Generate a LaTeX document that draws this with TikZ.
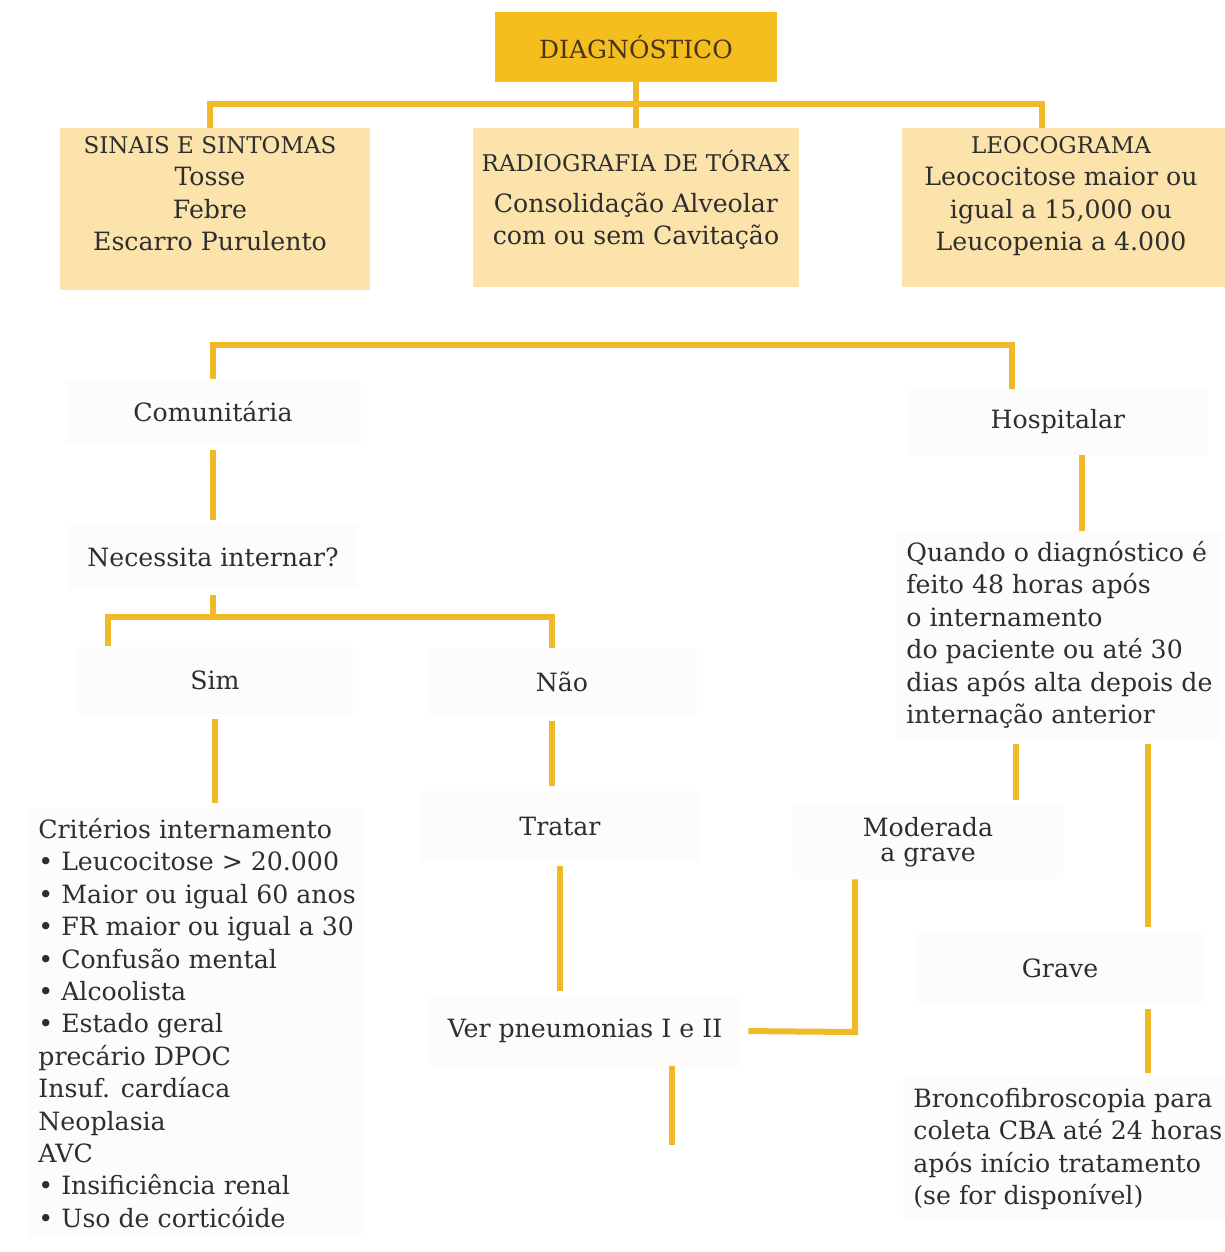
\documentclass[tikz,border=0pt]{standalone}
\usepackage{fontspec}
\setmainfont{DejaVu Serif}
\usetikzlibrary{calc}
\definecolor{gold}{HTML}{F4BE1F}
\definecolor{linegold}{HTML}{F0B928}
\definecolor{pale}{HTML}{FCE3AB}
\definecolor{faint}{HTML}{FEFBFB}
\definecolor{ink}{HTML}{2E2E2E}
\definecolor{brownink}{HTML}{4A3418}
\tikzset{
  link/.style={linegold, line width=3pt},
  gaplink/.style={link, shorten <=2.5pt, shorten >=2.5pt},
  palebox/.style={fill=pale, inner sep=0pt},
  boxtext/.style={text=ink, align=center, inner sep=0pt, anchor=north},
  faintbox/.style={fill=faint, text=ink, align=center, inner sep=0pt},
  listtext/.style={fill=faint, text=ink, align=left, inner sep=5pt, anchor=north west},
}
\newcommand{\headtxt}[1]{{\fontsize{11.5}{16.2}\selectfont #1}}
\begin{document}
\begin{tikzpicture}[x=0.5pt, y=-0.5pt, font=\fontsize{12.6}{16.2}\selectfont]
\useasboundingbox[fill=white] (0,0) rectangle (1225,1252);

\node[fill=gold, minimum width=141pt, minimum height=35pt, text=brownink,
  font=\fontsize{12.5}{14}\selectfont] (diag) at (636,47) {DIAGNÓSTICO};

\node[palebox, minimum width=155pt, minimum height=81pt] (sinais) at (215,209) {};
\node[palebox, minimum width=163pt, minimum height=79.5pt] (radio) at (636,207.5) {};
\node[palebox, minimum width=161.5pt, minimum height=79.5pt] (leuco) at (1063.5,207.5) {};
\node[boxtext] (sinaistxt) at (210,136) {\headtxt{SINAIS E SINTOMAS}\\Tosse\\Febre\\Escarro Purulento};
\node[boxtext] (radiotxt) at (636,150) {\headtxt{RADIOGRAFIA DE TÓRAX}\\[4pt]Consolidação Alveolar\\com ou sem Cavitação};
\node[boxtext] (leucotxt) at (1061,136) {\headtxt{LEOCOGRAMA}\\Leococitose maior ou\\igual a 15,000 ou\\Leucopenia a 4.000};

\coordinate (jl) at (210,104);
\coordinate (jm) at (636,104);
\coordinate (jr) at (1042,104);
\draw[link] (diag.south) -- (jm) -- (radio.north);
\draw[link] (sinais.north -| jl) -- (jl) -- (jr) -- (leuco.north -| jr);

\node[faintbox, minimum width=147.5pt, minimum height=32.5pt] (com) at (213,412) {Comunitária};
\node[faintbox, minimum width=150pt, minimum height=33pt] (hosp) at (1058,422) {Hospitalar};
\node[faintbox, minimum width=145pt, minimum height=32pt] (nec) at (213,557) {Necessita internar?};
\node[faintbox, minimum width=137.5pt, minimum height=33.5pt] (sim) at (215,680) {Sim};
\node[faintbox, minimum width=135pt, minimum height=33.5pt] (nao) at (562,682) {Não};
\node[faintbox, minimum width=140pt, minimum height=35pt] (trat) at (560,826) {Tratar};
\node[faintbox, minimum width=155pt, minimum height=35pt] (ver) at (585,1031) {Ver pneumonias I e II};
\node[faintbox, minimum width=135pt, minimum height=37pt,
  font=\fontsize{12.6}{12.5}\selectfont] (mod) at (928,842) {Moderada\\a grave};
\node[faintbox, minimum width=145pt, minimum height=36pt] (grave) at (1060,968) {Grave};

\node[listtext] (crit) at (28,808) {Critérios internamento\\• Leucocitose > 20.000\\• Maior ou igual 60 anos\\• FR maior ou igual a 30\\• Confusão mental\\• Alcoolista\\• Estado geral\\precário DPOC\\Insuf. cardíaca\\Neoplasia\\AVC\\• Insificiência renal\\• Uso de corticóide};
\node[listtext] (quando) at (896,531) {Quando o diagnóstico é\\feito 48 horas após\\o internamento\\do paciente ou até 30\\dias após alta depois de\\internação anterior};
\node[listtext] (bronco) at (903,1078) {Broncofibroscopia para\\coleta CBA até 24 horas\\após início tratamento\\(se for disponível)};

\coordinate (kl) at (213,345);
\coordinate (kr) at (1012,345);
\draw[link] (com.north) -- (kl) -- (kr) -- (hosp.north -| kr);
\draw[gaplink] (com.south) -- (nec.north);

\coordinate (nl) at (108,617);
\coordinate (nm) at (213,617);
\coordinate (nr) at (552,617);
\draw[link, shorten <=3pt] (nec.south) -- (nm);
\draw[link] (sim.north -| nl) -- (nl) -- (nr) -- (nao.north -| nr);
\draw[gaplink] (sim.south) -- (sim.south |- crit.north);
\draw[gaplink] (nao.south -| nr) -- (trat.north -| nr);
\draw[gaplink] (trat.south) -- (trat.south |- ver.north);

\coordinate (vk) at (855,1032);
\coordinate (vend) at (672,1145);
\draw[link, shorten <=4pt] (ver.east) -- (vk) -- (vk |- mod.south);
\draw[link] (ver.south -| vend) -- (vend);

\draw[link] ([xshift=12pt]hosp.south) -- ([xshift=12pt]hosp.south |- quando.north);
\draw[gaplink] ([xshift=44pt]mod.north |- quando.south) -- ([xshift=44pt]mod.north);
\draw[gaplink] ([xshift=44pt]grave.north |- quando.south) -- ([xshift=44pt]grave.north);
\draw[gaplink] ([xshift=44pt]grave.south) -- ([xshift=44pt]grave.south |- bronco.north);
\end{tikzpicture}
\end{document}
